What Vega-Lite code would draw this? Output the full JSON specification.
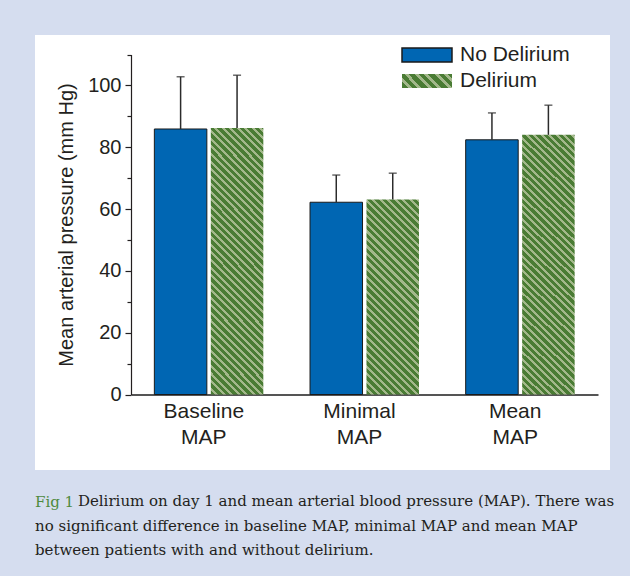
{
  "$schema": "https://vega.github.io/schema/vega-lite/v6.json",
  "width": 575,
  "height": 435,
  "autosize": {"type": "none"},
  "padding": {"left": 35, "top": 35, "right": 20, "bottom": 106},
  "background": "#d5ddef",
  "config": {"view": {"fill": "white", "stroke": null}, "font": "Liberation Sans"},
  "title": {
    "text": "Fig 1",
    "subtitle": ["\u200b\u00a0\u00a0\u00a0\u00a0\u00a0\u00a0\u00a0\u00a0\u00a0Delirium on day 1 and mean arterial blood pressure (MAP). There was", "no significant difference in baseline MAP, minimal MAP and mean MAP", "between patients with and without delirium."],
    "orient": "bottom",
    "anchor": "start",
    "frame": "group",
    "offset": 25,
    "font": "DejaVu Serif",
    "fontSize": 15,
    "fontWeight": "normal",
    "color": "#4e8a3e",
    "subtitleFont": "DejaVu Serif",
    "subtitleFontSize": 15,
    "subtitleColor": "#231f20",
    "subtitleLineHeight": 24.5,
    "subtitlePadding": -16
  },
  "data": {
    "values": [
      {"cat": "Baseline MAP", "group": "No Delirium", "mean": 85.9, "upper": 102.8},
      {"cat": "Baseline MAP", "group": "Delirium", "mean": 86.2, "upper": 103.3},
      {"cat": "Minimal MAP", "group": "No Delirium", "mean": 62.2, "upper": 71.0},
      {"cat": "Minimal MAP", "group": "Delirium", "mean": 63.1, "upper": 71.6},
      {"cat": "Mean MAP", "group": "No Delirium", "mean": 82.4, "upper": 91.1},
      {"cat": "Mean MAP", "group": "Delirium", "mean": 84.0, "upper": 93.6}
    ]
  },
  "encoding": {
    "x": {
      "field": "cat",
      "type": "nominal",
      "sort": ["Baseline MAP", "Minimal MAP", "Mean MAP"],
      "scale": {"domain": ["Baseline MAP", "Minimal MAP", "Mean MAP"], "range": [96, 563], "paddingInner": 0.3, "paddingOuter": 0.15},
      "axis": {
        "offset": -75.5,
        "ticks": false,
        "domainColor": "#555555",
        "domainWidth": 1.8,
        "labelExpr": "split(datum.label, ' ')",
        "labelFontSize": 21,
        "labelLineHeight": 26,
        "labelColor": "#231f20",
        "labelPadding": 6,
        "labelOffset": -5,
        "labelAngle": 0,
        "title": null
      }
    },
    "xOffset": {
      "field": "group",
      "type": "nominal",
      "scale": {"domain": ["No Delirium", "Delirium"], "paddingInner": 0.07, "paddingOuter": 0}
    },
    "y": {
      "field": "mean",
      "type": "quantitative",
      "title": "Mean arterial pressure (mm Hg)",
      "scale": {"domain": [0, 110], "range": [359.5, 19.5], "nice": false, "zero": true},
      "axis": {
        "values": [0, 10, 20, 30, 40, 50, 60, 70, 80, 90, 100, 110],
        "labelExpr": "datum.value % 20 === 0 && datum.value <= 100 ? datum.label : ''",
        "tickSize": {"condition": {"test": "datum.value % 20 === 0", "value": 6}, "value": 4},
        "offset": -96,
        "grid": false,
        "domainColor": "#231f20",
        "domainWidth": 1.2,
        "tickColor": "#231f20",
        "tickWidth": 1.2,
        "labelFontSize": 20,
        "labelColor": "#231f20",
        "labelPadding": 4,
        "titleFontSize": 20,
        "titleFontWeight": "normal",
        "titleColor": "#231f20",
        "titlePadding": 11
      }
    }
  },
  "layer": [
    {
      "transform": [{"filter": "datum.group === 'No Delirium'"}],
      "mark": {"type": "bar", "strokeWidth": 1},
      "encoding": {
        "fill": {
          "field": "group",
          "type": "nominal",
          "scale": {"domain": ["No Delirium", "Delirium"], "range": ["#0066b3", {"expr": "{gradient: 'linear', x1: 0, y1: 1, x2: 1.18694, y2: 0.66766, stops: [{offset: 0, color: '#4a7c34'}, {offset: 0.0938, color: '#4a7c34'}, {offset: 0.0938, color: '#a3b88b'}, {offset: 0.1563, color: '#a3b88b'}, {offset: 0.1563, color: '#4a7c34'}, {offset: 0.25, color: '#4a7c34'}, {offset: 0.25, color: '#a3b88b'}, {offset: 0.3125, color: '#a3b88b'}, {offset: 0.3125, color: '#4a7c34'}, {offset: 0.4063, color: '#4a7c34'}, {offset: 0.4063, color: '#a3b88b'}, {offset: 0.4688, color: '#a3b88b'}, {offset: 0.4688, color: '#4a7c34'}, {offset: 0.5625, color: '#4a7c34'}, {offset: 0.5625, color: '#a3b88b'}, {offset: 0.625, color: '#a3b88b'}, {offset: 0.625, color: '#4a7c34'}, {offset: 0.7188, color: '#4a7c34'}, {offset: 0.7188, color: '#a3b88b'}, {offset: 0.7813, color: '#a3b88b'}, {offset: 0.7813, color: '#4a7c34'}, {offset: 0.875, color: '#4a7c34'}, {offset: 0.875, color: '#a3b88b'}, {offset: 0.9375, color: '#a3b88b'}, {offset: 0.9375, color: '#4a7c34'}, {offset: 1, color: '#4a7c34'}]}"}]},
          "legend": {
            "title": null,
            "orient": "none",
            "legendX": 366,
            "legendY": 7,
            "padding": 0,
            "symbolType": "M-1,-0.28H1V0.28H-1Z",
            "symbolSize": 2500,
            "symbolStrokeWidth": 1.5,
            "symbolOpacity": 1,
            "labelFontSize": 21,
            "labelColor": "#231f20",
            "labelOffset": 7,
            "clipHeight": 26,
            "rowPadding": 0
          }
        },
        "stroke": {
          "field": "group",
          "type": "nominal",
          "scale": {"domain": ["No Delirium", "Delirium"], "range": ["#1a1a1a", "transparent"]},
          "legend": {
            "title": null,
            "orient": "none",
            "legendX": 366,
            "legendY": 7,
            "padding": 0,
            "symbolType": "M-1,-0.28H1V0.28H-1Z",
            "symbolSize": 2500,
            "symbolStrokeWidth": 1.5,
            "symbolOpacity": 1,
            "labelFontSize": 21,
            "labelColor": "#231f20",
            "labelOffset": 7,
            "clipHeight": 26,
            "rowPadding": 0
          }
        }
      }
    },
    {
      "transform": [{"filter": "datum.group === 'Delirium' && datum.cat !== 'Minimal MAP'"}],
      "mark": {"type": "bar", "fill": {"gradient": "linear", "x1": 0, "y1": 1, "x2": 0.22934, "y2": -0.15326, "stops": [
        {"offset": 0, "color": "#4a7c34"}, {"offset": 0.0142, "color": "#4a7c34"}, {"offset": 0.0142, "color": "#a3b88b"}, {"offset": 0.0237, "color": "#a3b88b"},
        {"offset": 0.0237, "color": "#4a7c34"}, {"offset": 0.0379, "color": "#4a7c34"}, {"offset": 0.0379, "color": "#a3b88b"}, {"offset": 0.0474, "color": "#a3b88b"},
        {"offset": 0.0474, "color": "#4a7c34"}, {"offset": 0.0616, "color": "#4a7c34"}, {"offset": 0.0616, "color": "#a3b88b"}, {"offset": 0.0711, "color": "#a3b88b"},
        {"offset": 0.0711, "color": "#4a7c34"}, {"offset": 0.0853, "color": "#4a7c34"}, {"offset": 0.0853, "color": "#a3b88b"}, {"offset": 0.0948, "color": "#a3b88b"},
        {"offset": 0.0948, "color": "#4a7c34"}, {"offset": 0.1090, "color": "#4a7c34"}, {"offset": 0.1090, "color": "#a3b88b"}, {"offset": 0.1185, "color": "#a3b88b"},
        {"offset": 0.1185, "color": "#4a7c34"}, {"offset": 0.1327, "color": "#4a7c34"}, {"offset": 0.1327, "color": "#a3b88b"}, {"offset": 0.1422, "color": "#a3b88b"},
        {"offset": 0.1422, "color": "#4a7c34"}, {"offset": 0.1564, "color": "#4a7c34"}, {"offset": 0.1564, "color": "#a3b88b"}, {"offset": 0.1659, "color": "#a3b88b"},
        {"offset": 0.1659, "color": "#4a7c34"}, {"offset": 0.1801, "color": "#4a7c34"}, {"offset": 0.1801, "color": "#a3b88b"}, {"offset": 0.1896, "color": "#a3b88b"},
        {"offset": 0.1896, "color": "#4a7c34"}, {"offset": 0.2038, "color": "#4a7c34"}, {"offset": 0.2038, "color": "#a3b88b"}, {"offset": 0.2133, "color": "#a3b88b"},
        {"offset": 0.2133, "color": "#4a7c34"}, {"offset": 0.2275, "color": "#4a7c34"}, {"offset": 0.2275, "color": "#a3b88b"}, {"offset": 0.2370, "color": "#a3b88b"},
        {"offset": 0.2370, "color": "#4a7c34"}, {"offset": 0.2512, "color": "#4a7c34"}, {"offset": 0.2512, "color": "#a3b88b"}, {"offset": 0.2607, "color": "#a3b88b"},
        {"offset": 0.2607, "color": "#4a7c34"}, {"offset": 0.2749, "color": "#4a7c34"}, {"offset": 0.2749, "color": "#a3b88b"}, {"offset": 0.2844, "color": "#a3b88b"},
        {"offset": 0.2844, "color": "#4a7c34"}, {"offset": 0.2986, "color": "#4a7c34"}, {"offset": 0.2986, "color": "#a3b88b"}, {"offset": 0.3081, "color": "#a3b88b"},
        {"offset": 0.3081, "color": "#4a7c34"}, {"offset": 0.3223, "color": "#4a7c34"}, {"offset": 0.3223, "color": "#a3b88b"}, {"offset": 0.3318, "color": "#a3b88b"},
        {"offset": 0.3318, "color": "#4a7c34"}, {"offset": 0.3460, "color": "#4a7c34"}, {"offset": 0.3460, "color": "#a3b88b"}, {"offset": 0.3555, "color": "#a3b88b"},
        {"offset": 0.3555, "color": "#4a7c34"}, {"offset": 0.3697, "color": "#4a7c34"}, {"offset": 0.3697, "color": "#a3b88b"}, {"offset": 0.3792, "color": "#a3b88b"},
        {"offset": 0.3792, "color": "#4a7c34"}, {"offset": 0.3934, "color": "#4a7c34"}, {"offset": 0.3934, "color": "#a3b88b"}, {"offset": 0.4029, "color": "#a3b88b"},
        {"offset": 0.4029, "color": "#4a7c34"}, {"offset": 0.4171, "color": "#4a7c34"}, {"offset": 0.4171, "color": "#a3b88b"}, {"offset": 0.4266, "color": "#a3b88b"},
        {"offset": 0.4266, "color": "#4a7c34"}, {"offset": 0.4408, "color": "#4a7c34"}, {"offset": 0.4408, "color": "#a3b88b"}, {"offset": 0.4502, "color": "#a3b88b"},
        {"offset": 0.4502, "color": "#4a7c34"}, {"offset": 0.4645, "color": "#4a7c34"}, {"offset": 0.4645, "color": "#a3b88b"}, {"offset": 0.4739, "color": "#a3b88b"},
        {"offset": 0.4739, "color": "#4a7c34"}, {"offset": 0.4882, "color": "#4a7c34"}, {"offset": 0.4882, "color": "#a3b88b"}, {"offset": 0.4976, "color": "#a3b88b"},
        {"offset": 0.4976, "color": "#4a7c34"}, {"offset": 0.5119, "color": "#4a7c34"}, {"offset": 0.5119, "color": "#a3b88b"}, {"offset": 0.5213, "color": "#a3b88b"},
        {"offset": 0.5213, "color": "#4a7c34"}, {"offset": 0.5356, "color": "#4a7c34"}, {"offset": 0.5356, "color": "#a3b88b"}, {"offset": 0.5450, "color": "#a3b88b"},
        {"offset": 0.5450, "color": "#4a7c34"}, {"offset": 0.5593, "color": "#4a7c34"}, {"offset": 0.5593, "color": "#a3b88b"}, {"offset": 0.5687, "color": "#a3b88b"},
        {"offset": 0.5687, "color": "#4a7c34"}, {"offset": 0.5830, "color": "#4a7c34"}, {"offset": 0.5830, "color": "#a3b88b"}, {"offset": 0.5924, "color": "#a3b88b"},
        {"offset": 0.5924, "color": "#4a7c34"}, {"offset": 0.6067, "color": "#4a7c34"}, {"offset": 0.6067, "color": "#a3b88b"}, {"offset": 0.6161, "color": "#a3b88b"},
        {"offset": 0.6161, "color": "#4a7c34"}, {"offset": 0.6303, "color": "#4a7c34"}, {"offset": 0.6303, "color": "#a3b88b"}, {"offset": 0.6398, "color": "#a3b88b"},
        {"offset": 0.6398, "color": "#4a7c34"}, {"offset": 0.6540, "color": "#4a7c34"}, {"offset": 0.6540, "color": "#a3b88b"}, {"offset": 0.6635, "color": "#a3b88b"},
        {"offset": 0.6635, "color": "#4a7c34"}, {"offset": 0.6777, "color": "#4a7c34"}, {"offset": 0.6777, "color": "#a3b88b"}, {"offset": 0.6872, "color": "#a3b88b"},
        {"offset": 0.6872, "color": "#4a7c34"}, {"offset": 0.7014, "color": "#4a7c34"}, {"offset": 0.7014, "color": "#a3b88b"}, {"offset": 0.7109, "color": "#a3b88b"},
        {"offset": 0.7109, "color": "#4a7c34"}, {"offset": 0.7251, "color": "#4a7c34"}, {"offset": 0.7251, "color": "#a3b88b"}, {"offset": 0.7346, "color": "#a3b88b"},
        {"offset": 0.7346, "color": "#4a7c34"}, {"offset": 0.7488, "color": "#4a7c34"}, {"offset": 0.7488, "color": "#a3b88b"}, {"offset": 0.7583, "color": "#a3b88b"},
        {"offset": 0.7583, "color": "#4a7c34"}, {"offset": 0.7725, "color": "#4a7c34"}, {"offset": 0.7725, "color": "#a3b88b"}, {"offset": 0.7820, "color": "#a3b88b"},
        {"offset": 0.7820, "color": "#4a7c34"}, {"offset": 0.7962, "color": "#4a7c34"}, {"offset": 0.7962, "color": "#a3b88b"}, {"offset": 0.8057, "color": "#a3b88b"},
        {"offset": 0.8057, "color": "#4a7c34"}, {"offset": 0.8199, "color": "#4a7c34"}, {"offset": 0.8199, "color": "#a3b88b"}, {"offset": 0.8294, "color": "#a3b88b"},
        {"offset": 0.8294, "color": "#4a7c34"}, {"offset": 0.8436, "color": "#4a7c34"}, {"offset": 0.8436, "color": "#a3b88b"}, {"offset": 0.8531, "color": "#a3b88b"},
        {"offset": 0.8531, "color": "#4a7c34"}, {"offset": 0.8673, "color": "#4a7c34"}, {"offset": 0.8673, "color": "#a3b88b"}, {"offset": 0.8768, "color": "#a3b88b"},
        {"offset": 0.8768, "color": "#4a7c34"}, {"offset": 0.8910, "color": "#4a7c34"}, {"offset": 0.8910, "color": "#a3b88b"}, {"offset": 0.9005, "color": "#a3b88b"},
        {"offset": 0.9005, "color": "#4a7c34"}, {"offset": 0.9147, "color": "#4a7c34"}, {"offset": 0.9147, "color": "#a3b88b"}, {"offset": 0.9242, "color": "#a3b88b"},
        {"offset": 0.9242, "color": "#4a7c34"}, {"offset": 0.9384, "color": "#4a7c34"}, {"offset": 0.9384, "color": "#a3b88b"}, {"offset": 0.9479, "color": "#a3b88b"},
        {"offset": 0.9479, "color": "#4a7c34"}, {"offset": 0.9621, "color": "#4a7c34"}, {"offset": 0.9621, "color": "#a3b88b"}, {"offset": 0.9716, "color": "#a3b88b"},
        {"offset": 0.9716, "color": "#4a7c34"}, {"offset": 0.9858, "color": "#4a7c34"}, {"offset": 0.9858, "color": "#a3b88b"}, {"offset": 0.9953, "color": "#a3b88b"},
        {"offset": 0.9953, "color": "#4a7c34"}, {"offset": 1, "color": "#4a7c34"}
      ]}}
    },
    {
      "transform": [{"filter": "datum.group === 'Delirium' && datum.cat === 'Minimal MAP'"}],
      "mark": {"type": "bar", "fill": {"gradient": "linear", "x1": 0, "y1": 1, "x2": 0.31862, "y2": -0.18345, "stops": [
        {"offset": 0, "color": "#4a7c34"}, {"offset": 0.0182, "color": "#4a7c34"}, {"offset": 0.0182, "color": "#a3b88b"}, {"offset": 0.0303, "color": "#a3b88b"},
        {"offset": 0.0303, "color": "#4a7c34"}, {"offset": 0.0485, "color": "#4a7c34"}, {"offset": 0.0485, "color": "#a3b88b"}, {"offset": 0.0606, "color": "#a3b88b"},
        {"offset": 0.0606, "color": "#4a7c34"}, {"offset": 0.0788, "color": "#4a7c34"}, {"offset": 0.0788, "color": "#a3b88b"}, {"offset": 0.0909, "color": "#a3b88b"},
        {"offset": 0.0909, "color": "#4a7c34"}, {"offset": 0.1091, "color": "#4a7c34"}, {"offset": 0.1091, "color": "#a3b88b"}, {"offset": 0.1212, "color": "#a3b88b"},
        {"offset": 0.1212, "color": "#4a7c34"}, {"offset": 0.1394, "color": "#4a7c34"}, {"offset": 0.1394, "color": "#a3b88b"}, {"offset": 0.1515, "color": "#a3b88b"},
        {"offset": 0.1515, "color": "#4a7c34"}, {"offset": 0.1697, "color": "#4a7c34"}, {"offset": 0.1697, "color": "#a3b88b"}, {"offset": 0.1818, "color": "#a3b88b"},
        {"offset": 0.1818, "color": "#4a7c34"}, {"offset": 0.2000, "color": "#4a7c34"}, {"offset": 0.2000, "color": "#a3b88b"}, {"offset": 0.2121, "color": "#a3b88b"},
        {"offset": 0.2121, "color": "#4a7c34"}, {"offset": 0.2303, "color": "#4a7c34"}, {"offset": 0.2303, "color": "#a3b88b"}, {"offset": 0.2424, "color": "#a3b88b"},
        {"offset": 0.2424, "color": "#4a7c34"}, {"offset": 0.2606, "color": "#4a7c34"}, {"offset": 0.2606, "color": "#a3b88b"}, {"offset": 0.2727, "color": "#a3b88b"},
        {"offset": 0.2727, "color": "#4a7c34"}, {"offset": 0.2909, "color": "#4a7c34"}, {"offset": 0.2909, "color": "#a3b88b"}, {"offset": 0.3030, "color": "#a3b88b"},
        {"offset": 0.3030, "color": "#4a7c34"}, {"offset": 0.3212, "color": "#4a7c34"}, {"offset": 0.3212, "color": "#a3b88b"}, {"offset": 0.3333, "color": "#a3b88b"},
        {"offset": 0.3333, "color": "#4a7c34"}, {"offset": 0.3515, "color": "#4a7c34"}, {"offset": 0.3515, "color": "#a3b88b"}, {"offset": 0.3636, "color": "#a3b88b"},
        {"offset": 0.3636, "color": "#4a7c34"}, {"offset": 0.3818, "color": "#4a7c34"}, {"offset": 0.3818, "color": "#a3b88b"}, {"offset": 0.3939, "color": "#a3b88b"},
        {"offset": 0.3939, "color": "#4a7c34"}, {"offset": 0.4121, "color": "#4a7c34"}, {"offset": 0.4121, "color": "#a3b88b"}, {"offset": 0.4242, "color": "#a3b88b"},
        {"offset": 0.4242, "color": "#4a7c34"}, {"offset": 0.4424, "color": "#4a7c34"}, {"offset": 0.4424, "color": "#a3b88b"}, {"offset": 0.4545, "color": "#a3b88b"},
        {"offset": 0.4545, "color": "#4a7c34"}, {"offset": 0.4727, "color": "#4a7c34"}, {"offset": 0.4727, "color": "#a3b88b"}, {"offset": 0.4848, "color": "#a3b88b"},
        {"offset": 0.4848, "color": "#4a7c34"}, {"offset": 0.5030, "color": "#4a7c34"}, {"offset": 0.5030, "color": "#a3b88b"}, {"offset": 0.5152, "color": "#a3b88b"},
        {"offset": 0.5152, "color": "#4a7c34"}, {"offset": 0.5333, "color": "#4a7c34"}, {"offset": 0.5333, "color": "#a3b88b"}, {"offset": 0.5455, "color": "#a3b88b"},
        {"offset": 0.5455, "color": "#4a7c34"}, {"offset": 0.5636, "color": "#4a7c34"}, {"offset": 0.5636, "color": "#a3b88b"}, {"offset": 0.5758, "color": "#a3b88b"},
        {"offset": 0.5758, "color": "#4a7c34"}, {"offset": 0.5939, "color": "#4a7c34"}, {"offset": 0.5939, "color": "#a3b88b"}, {"offset": 0.6061, "color": "#a3b88b"},
        {"offset": 0.6061, "color": "#4a7c34"}, {"offset": 0.6242, "color": "#4a7c34"}, {"offset": 0.6242, "color": "#a3b88b"}, {"offset": 0.6364, "color": "#a3b88b"},
        {"offset": 0.6364, "color": "#4a7c34"}, {"offset": 0.6545, "color": "#4a7c34"}, {"offset": 0.6545, "color": "#a3b88b"}, {"offset": 0.6667, "color": "#a3b88b"},
        {"offset": 0.6667, "color": "#4a7c34"}, {"offset": 0.6848, "color": "#4a7c34"}, {"offset": 0.6848, "color": "#a3b88b"}, {"offset": 0.6970, "color": "#a3b88b"},
        {"offset": 0.6970, "color": "#4a7c34"}, {"offset": 0.7152, "color": "#4a7c34"}, {"offset": 0.7152, "color": "#a3b88b"}, {"offset": 0.7273, "color": "#a3b88b"},
        {"offset": 0.7273, "color": "#4a7c34"}, {"offset": 0.7455, "color": "#4a7c34"}, {"offset": 0.7455, "color": "#a3b88b"}, {"offset": 0.7576, "color": "#a3b88b"},
        {"offset": 0.7576, "color": "#4a7c34"}, {"offset": 0.7758, "color": "#4a7c34"}, {"offset": 0.7758, "color": "#a3b88b"}, {"offset": 0.7879, "color": "#a3b88b"},
        {"offset": 0.7879, "color": "#4a7c34"}, {"offset": 0.8061, "color": "#4a7c34"}, {"offset": 0.8061, "color": "#a3b88b"}, {"offset": 0.8182, "color": "#a3b88b"},
        {"offset": 0.8182, "color": "#4a7c34"}, {"offset": 0.8364, "color": "#4a7c34"}, {"offset": 0.8364, "color": "#a3b88b"}, {"offset": 0.8485, "color": "#a3b88b"},
        {"offset": 0.8485, "color": "#4a7c34"}, {"offset": 0.8667, "color": "#4a7c34"}, {"offset": 0.8667, "color": "#a3b88b"}, {"offset": 0.8788, "color": "#a3b88b"},
        {"offset": 0.8788, "color": "#4a7c34"}, {"offset": 0.8970, "color": "#4a7c34"}, {"offset": 0.8970, "color": "#a3b88b"}, {"offset": 0.9091, "color": "#a3b88b"},
        {"offset": 0.9091, "color": "#4a7c34"}, {"offset": 0.9273, "color": "#4a7c34"}, {"offset": 0.9273, "color": "#a3b88b"}, {"offset": 0.9394, "color": "#a3b88b"},
        {"offset": 0.9394, "color": "#4a7c34"}, {"offset": 0.9576, "color": "#4a7c34"}, {"offset": 0.9576, "color": "#a3b88b"}, {"offset": 0.9697, "color": "#a3b88b"},
        {"offset": 0.9697, "color": "#4a7c34"}, {"offset": 0.9879, "color": "#4a7c34"}, {"offset": 0.9879, "color": "#a3b88b"}, {"offset": 1, "color": "#a3b88b"}
      ]}}
    },
    {
      "mark": {"type": "rule", "color": "#2b2b2b", "strokeWidth": 1.5},
      "encoding": {"y2": {"field": "upper"}}
    },
    {
      "mark": {"type": "tick", "color": "#2b2b2b", "size": 8, "thickness": 1.5},
      "encoding": {"y": {"field": "upper", "type": "quantitative", "title": "Mean arterial pressure (mm Hg)"}}
    }
  ]
}
